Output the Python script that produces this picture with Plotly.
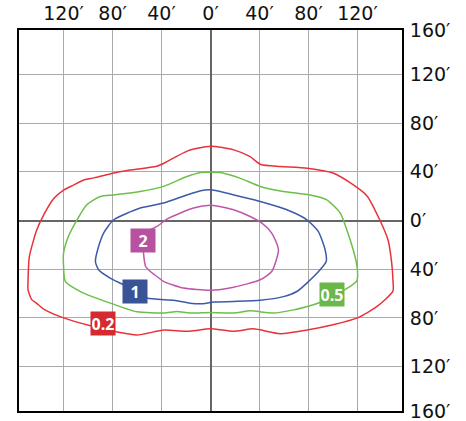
import plotly.graph_objects as go

# Isolux contour data (feet)
red_x = [0, 19, 32, 41, 57, 79, 100, 117, 128, 138, 145, 148, 149, 149, 136, 120, 100, 79, 57, 35, 19, 0,
         -19, -38, -60, -79, -98, -120, -136, -142, -146, -149, -149, -148, -142, -136, -128, -120, -112, -103,
         -95, -79, -68, -44, -38, -19, 0]
red_y = [61, 58, 52.6, 46, 44.4, 43, 39, 29, 20, 1, -16, -35, -49, -58, -70.6, -80, -85.7, -90, -93, -89, -91, -89,
         -91, -90, -94, -91, -86.5, -80, -73, -68, -65, -57, -49, -30, -8, 5, 18, 25, 29, 33.4,
         35, 39, 41, 44.5, 47, 57, 61]

green_x = [0, 8, 24, 40.6, 59.6, 81.4, 95, 106, 111.3, 118, 120, 119.5, 100.4, 84, 67.8, 51.4, 32.4, 19, 0,
           -17, -27.4, -38, -60, -80, -105, -118.6, -120, -120, -116, -109, -101, -90, -79, -57.4, -38.4, -19.3,
           -8, 0]
green_y = [39.7, 39.4, 34.8, 28, 23.8, 21, 17, 6, -7.6, -29.6, -40.5, -49.5, -62.4, -69.2, -73.4, -76, -74.2, -76,
           -75.5, -76, -74.7, -76, -75, -68.5, -59, -50, -38, -26.8, -13, 0.6, 12.9, 19.7, 21, 23.8, 28, 36.1,
           39.5, 39.7]

blue_x = [0, 8, 24.2, 40.6, 62.4, 78.7, 88, 93.6, 94.5, 89.5, 78.7, 70.5, 59.6, 40.6, 18.8, 3, -8.4, -16.6,
          -30, -52, -62, -71, -82, -91.4, -94, -91.4, -87.3, -79, -57.4, -38.4, -19.3, -8, 0]
blue_y = [25.2, 23.8, 19.7, 15.6, 8.8, 0.6, -9, -24, -33.7, -40.5, -51.4, -58.3, -62.5, -65.5, -66.5, -67, -68.4,
          -67.9, -65.5, -63.7, -58, -52.8, -47.3, -40.5, -33.7, -21.4, -10.3, 0.6, 10.2, 14.3, 21, 24.5, 25.2]

mag_x = [0, 5.2, 18.8, 32.4, 42, 50, 55.5, 50, 40.6, 18.8, 0, -22, -38.4, -43.7, -49.2, -53, -54.7, -55, -50,
         -43.7, -35.6, -13.9, 0]
mag_y = [12.6, 12, 8.8, 3.3, -2.1, -10.3, -24, -41.9, -48.7, -54.8, -57.3, -55.5, -50, -46, -41.9, -37.8, -26.8,
         -17, -8, -4.9, 1.1, 10.2, 12.6]

# Contour labels
label_text = ["0.2", "0.5", "1", "2"]
label_x = [-87.6, 99.3, -62, -55]
label_y = [-84.8, -60.8, -58.3, -16.7]

# Axis ticks
x_ticks = [-120, -80, -40, 0, 40, 80, 120]
x_labels = ["120′", "80′", "40′", "0′", "40′", "80′", "120′"]
LIM = 156.4
y_ticks = [LIM, 120, 80, 40, 0, -40, -80, -120, -LIM]
y_labels = ["160′", "120′", "80′", "40′", "0′", "40′", "80′", "120′", "160′"]

line_cols = ["#e8323a", "#6cbf4a", "#3d5aa8", "#c056aa"]
box_cols = ["#d42a30", "#6ab84a", "#3a5396", "#b6529f"]

fig = go.Figure()
for xs, ys, c in [(red_x, red_y, line_cols[0]), (green_x, green_y, line_cols[1]),
                  (blue_x, blue_y, line_cols[2]), (mag_x, mag_y, line_cols[3])]:
    fig.add_trace(go.Scatter(x=xs, y=ys, mode="lines", line=dict(color=c, width=1.5, shape="spline", smoothing=0.6),
                             hoverinfo="skip", showlegend=False))

for i in range(len(label_text)):
    fig.add_annotation(x=label_x[i], y=label_y[i], xref="x", yref="y", text=label_text[i], showarrow=False,
                       bgcolor=box_cols[i], width=22, height=21, borderpad=1,
                       font=dict(family="Open Sans", size=16, color="white", weight=700))

axis_font = dict(family="DejaVu Sans", size=19, color="#111")
EPS = 0.05
fig.update_layout(
    width=466, height=421,
    margin=dict(l=19, r=64, t=30, b=10, autoexpand=False),
    paper_bgcolor="white", plot_bgcolor="white",
    showlegend=False,
    xaxis=dict(range=[-LIM, LIM], side="top", tickvals=x_ticks, ticktext=x_labels, tickfont=axis_font,
               showgrid=True, gridcolor="#aaaaaa", gridwidth=1, zeroline=True, zerolinecolor="#666666",
               zerolinewidth=1.5, showline=True, mirror=True, linecolor="black", linewidth=2,
               ticks="", ticklabelstandoff=0, ticklabeloverflow="allow", fixedrange=True, automargin=False),
    yaxis=dict(range=[-LIM - EPS, LIM + EPS], side="right", tickvals=y_ticks, ticktext=y_labels, tickfont=axis_font,
               showgrid=True, gridcolor="#aaaaaa", gridwidth=1, zeroline=True, zerolinecolor="#666666",
               zerolinewidth=1.5, showline=True, mirror=True, linecolor="black", linewidth=2,
               ticks="", ticklabelstandoff=2, ticklabeloverflow="allow", fixedrange=True, automargin=False),
)

fig.write_html("out.html", config={"displayModeBar": False},
               post_script="document.body.style.margin='0';document.body.style.overflow='hidden';")
